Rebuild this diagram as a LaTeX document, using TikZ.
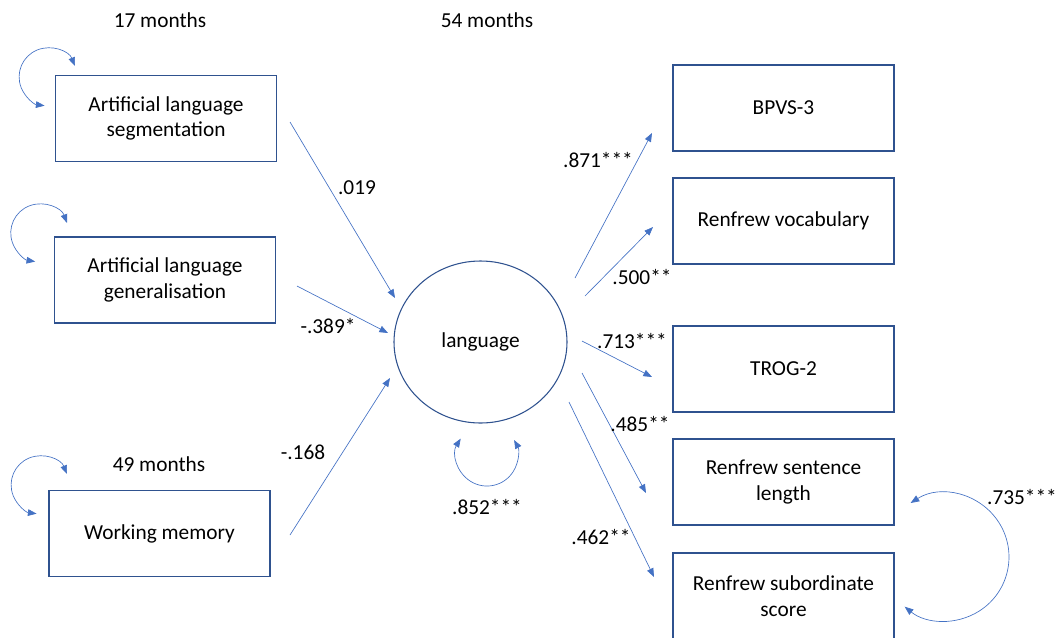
\documentclass[tikz,border=0pt]{standalone}
\usepackage{fontspec}
\setmainfont{Carlito}
\usetikzlibrary{arrows.meta,shapes.geometric}
\definecolor{boxblue}{HTML}{2F528F}
\definecolor{arrowblue}{HTML}{4472C4}

\begin{document}
\begin{tikzpicture}[x=0.75pt, y=-0.75pt,
	every node/.style = {font=\fontsize{16}{19}\selectfont, align=center},
	observed/.style = {shape=rectangle, draw=boxblue, line width=0.8pt, minimum width=165.75pt, minimum height=64.5pt, inner sep=0pt},
	latent/.style = {shape=ellipse, draw=boxblue, line width=0.8pt, minimum width=129.75pt, minimum height=121.5pt, inner sep=0pt},
	effect/.style = {draw=arrowblue, line width=0.5pt, -{Triangle[length=6.5pt,width=5pt]}},
	resid/.style = {draw=arrowblue, line width=0.5pt, {Triangle[length=6.5pt,width=5pt]}-{Triangle[length=6.5pt,width=5pt]}}]
	\useasboundingbox (0,0) rectangle (1061,637);

	\node (t17) at (160,20) {17 months};
	\node (t54) at (487,20) {54 months};
	\node (t49) at (159,464) {49 months};

	\node[observed] (seg) at (166,118.5) {Artificial language\\segmentation};
	\node[observed] (gen) at (165,280) {Artificial language\\generalisation};
	\node[observed] (wm) at (159.5,533.5) {Working memory};
	\node[latent] (lang) at (480.5,342) {language};
	\node[observed] (bpvs) at (783.5,108) {BPVS-3};
	\node[observed] (voc) at (783.5,221) {Renfrew vocabulary};
	\node[observed] (trog) at (783.5,369) {TROG-2};
	\node[observed] (sent) at (783.5,482) {Renfrew sentence\\length};
	\node[observed] (sub) at (783.5,596) {Renfrew subordinate\\score};

	\coordinate (seg-out) at (290,122);
	\coordinate (gen-out) at (297,286);
	\coordinate (wm-out) at (290,535);
	\coordinate (lang-in1) at (395,298);
	\coordinate (lang-in2) at (388,333);
	\coordinate (lang-in3) at (390,378);
	\draw[effect] (seg-out) -- (lang-in1);
	\draw[effect] (gen-out) -- (lang-in2);
	\draw[effect] (wm-out) -- (lang-in3);
	\node (w1) at (357,188) {.019};
	\node (w2) at (328,326) {-.389*};
	\node (w3) at (303,452) {-.168};

	\coordinate (lang-out1) at (575,278);
	\coordinate (lang-out2) at (585,296);
	\coordinate (lang-out3) at (582,341);
	\coordinate (lang-out4) at (582,373);
	\coordinate (lang-out5) at (569,402);
	\coordinate (bpvs-in) at (652,133);
	\coordinate (voc-in) at (653,227);
	\coordinate (trog-in) at (652,377);
	\coordinate (sent-in) at (646,493);
	\coordinate (sub-in) at (654,577);
	\draw[effect] (lang-out1) -- (bpvs-in);
	\draw[effect] (lang-out2) -- (voc-in);
	\draw[effect] (lang-out3) -- (trog-in);
	\draw[effect] (lang-out4) -- (sent-in);
	\draw[effect] (lang-out5) -- (sub-in);
	\node (l1) at (598,160) {.871***};
	\node (l2) at (642,277) {.500**};
	\node (l3) at (632,341) {.713***};
	\node (l4) at (640,424) {.485**};
	\node (l5) at (601,537) {.462**};

	\coordinate (seg-loop) at (75,66);
	\coordinate (gen-loop) at (67,223);
	\coordinate (wm-loop) at (67,474);
	\draw[resid] (seg-loop) arc[start angle=-22, end angle=-263, radius=29];
	\draw[resid] (gen-loop) arc[start angle=-20, end angle=-261, radius=29];
	\draw[resid] (wm-loop) arc[start angle=-22, end angle=-263, radius=29];

	\coordinate (lang-loop) at (460.7,438.6);
	\draw[resid] (lang-loop) arc[start angle=212, end angle=-29, radius=31];
	\node (r1) at (487,507) {.852***};

	\coordinate (sent-loop) at (910.6,503);
	\draw[resid] (sent-loop) arc[start angle=-122.5, end angle=129, radius=64];
	\node (r2) at (1022,497) {.735***};
\end{tikzpicture}
\end{document}
